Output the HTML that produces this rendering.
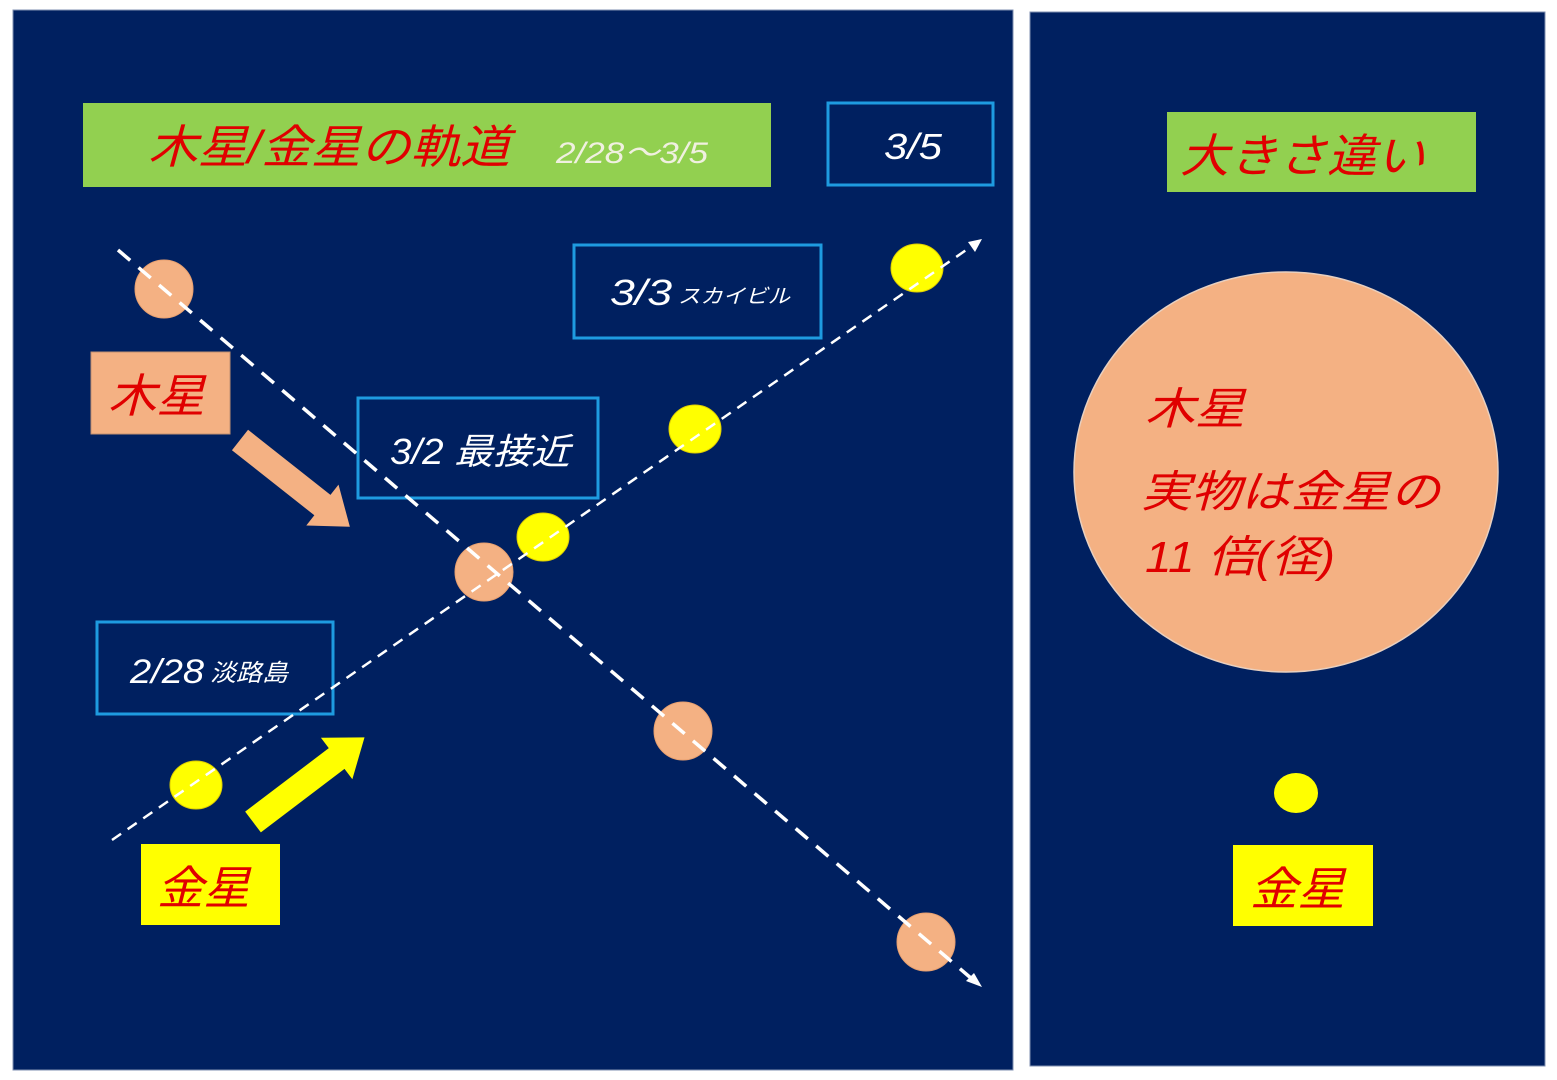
<!DOCTYPE html>
<html><head><meta charset="utf-8"><style>
html,body{margin:0;padding:0;background:#fff;}
svg{display:block}
text{font-family:"Liberation Sans","Noto Sans CJK JP",sans-serif;font-style:italic}
</style></head><body>
<svg width="1557" height="1080" viewBox="0 0 1557 1080" xmlns="http://www.w3.org/2000/svg">
<rect x="0" y="0" width="1557" height="1080" fill="#fff"/>
<rect x="13" y="10" width="1000" height="1060" fill="#002060" stroke="#7f8fb0" stroke-width="1"/>
<rect x="1030" y="12" width="515" height="1054" fill="#002060" stroke="#7f8fb0" stroke-width="1"/>

<rect x="83" y="103" width="688" height="84" fill="#92d050"/>
<text x="148" y="163" font-size="46" fill="#e00000" textLength="362" lengthAdjust="spacingAndGlyphs">木星/金星の軌道</text>
<text x="556" y="163" font-size="30" fill="#f0f0e0" textLength="152" lengthAdjust="spacingAndGlyphs">2/28～3/5</text>

<rect x="828" y="103" width="165" height="82" fill="none" stroke="#1e9be0" stroke-width="3"/>
<text x="884" y="159" font-size="36" fill="#fff" textLength="58" lengthAdjust="spacingAndGlyphs">3/5</text>

<rect x="574" y="245" width="247" height="93" fill="none" stroke="#1e9be0" stroke-width="3"/>
<text x="610" y="305" font-size="36" fill="#fff" textLength="62" lengthAdjust="spacingAndGlyphs">3/3</text>
<text x="678" y="303" font-size="20" fill="#fff" textLength="112" lengthAdjust="spacingAndGlyphs">スカイビル</text>

<rect x="358" y="398" width="240" height="100" fill="none" stroke="#1e9be0" stroke-width="3"/>
<text x="390" y="464" font-size="36" fill="#fff" textLength="180" lengthAdjust="spacingAndGlyphs">3/2 最接近</text>

<rect x="97" y="622" width="236" height="92" fill="none" stroke="#1e9be0" stroke-width="3"/>
<text x="130" y="683" font-size="34" fill="#fff" textLength="74" lengthAdjust="spacingAndGlyphs">2/28</text>
<text x="210" y="681" font-size="24" fill="#fff" textLength="78" lengthAdjust="spacingAndGlyphs">淡路島</text>

<circle cx="164" cy="289" r="29" fill="#f4b183" stroke="#e8a070"/>
<circle cx="484" cy="572" r="29" fill="#f4b183" stroke="#e8a070"/>
<circle cx="683" cy="731" r="29" fill="#f4b183" stroke="#e8a070"/>
<circle cx="926" cy="942" r="29" fill="#f4b183" stroke="#e8a070"/>
<ellipse cx="196" cy="785" rx="26" ry="24" fill="#ffff00" stroke="#e0d000"/>
<ellipse cx="543" cy="537" rx="26" ry="24" fill="#ffff00" stroke="#e0d000"/>
<ellipse cx="695" cy="429" rx="26" ry="24" fill="#ffff00" stroke="#e0d000"/>
<ellipse cx="917" cy="268" rx="26" ry="24" fill="#ffff00" stroke="#e0d000"/>

<line x1="118" y1="250" x2="972" y2="979" stroke="#fff" stroke-width="3.5" stroke-dasharray="16,11"/>
<polygon points="982,987 966,981 974,973" fill="#fff"/>
<line x1="112" y1="840" x2="972" y2="246" stroke="#fff" stroke-width="2.5" stroke-dasharray="11,8"/>
<polygon points="982,239 968,242 975,252" fill="#fff"/>

<rect x="91" y="352" width="139" height="82" fill="#f4b183" stroke="#c09070"/>
<text x="108" y="412" font-size="46" fill="#e00000" textLength="97" lengthAdjust="spacingAndGlyphs">木星</text>
<polygon points="0,-13 105,-13 105,-26 140,0 105,26 105,13 0,13" fill="#f4b183" transform="translate(240,440) rotate(38.3)"/>

<rect x="141" y="844" width="139" height="81" fill="#ffff00"/>
<text x="157" y="904" font-size="46" fill="#e00000" font-style="normal" textLength="93" lengthAdjust="spacingAndGlyphs">金星</text>
<polygon points="0,-13 105,-13 105,-26 140,0 105,26 105,13 0,13" fill="#ffff00" transform="translate(253,822) rotate(-37.2)"/>

<rect x="1167" y="112" width="309" height="80" fill="#92d050"/>
<text x="1180" y="172" font-size="46" fill="#e00000" textLength="245" lengthAdjust="spacingAndGlyphs">大きさ違い</text>
<ellipse cx="1286" cy="472" rx="212" ry="200" fill="#f4b183" stroke="#e8d0c0" stroke-width="1.5"/>
<text x="1145" y="424" font-size="44" fill="#e00000" textLength="100" lengthAdjust="spacingAndGlyphs">木星</text>
<text x="1141" y="507" font-size="44" fill="#e00000" textLength="299" lengthAdjust="spacingAndGlyphs">実物は金星の</text>
<text x="1145" y="572" font-size="44" fill="#e00000" textLength="190" lengthAdjust="spacingAndGlyphs">11 倍(径)</text>
<ellipse cx="1296" cy="793" rx="22" ry="20" fill="#ffff00"/>
<rect x="1233" y="845" width="140" height="81" fill="#ffff00"/>
<text x="1250" y="905" font-size="46" fill="#e00000" textLength="95" lengthAdjust="spacingAndGlyphs">金星</text>
</svg>
</body></html>
